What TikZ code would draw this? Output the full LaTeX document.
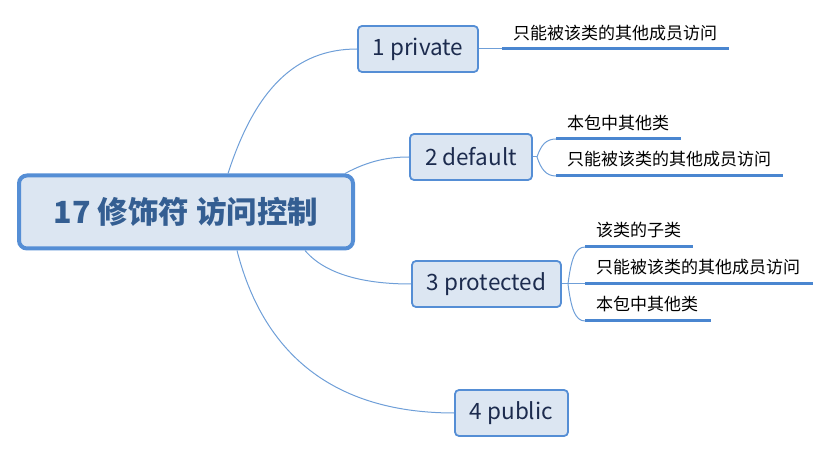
\documentclass[tikz,border=0pt]{standalone}
\usepackage{fontspec}
\setmainfont{Noto Sans CJK SC}
\definecolor{boxfill}{HTML}{DCE6F2}
\definecolor{boxborder}{HTML}{558ED5}
\definecolor{lineblue}{HTML}{6F9FD8}
\definecolor{ulblue}{HTML}{4A86D0}
\definecolor{topictext}{HTML}{1C2B4E}
\definecolor{roottext}{HTML}{345E92}
\begin{document}
\begin{tikzpicture}[x=1pt,y=-1pt,
  conn/.style={draw=lineblue,line width=1pt},
  uline/.style={draw=ulblue,line width=3pt},
  topic/.style={draw=boxborder,fill=boxfill,line width=1.8pt,rounded corners=4pt,text=topictext,font=\fontsize{22.5}{26}\selectfont,inner sep=0pt,minimum height=46pt},
  leaf/.style={anchor=base west,inner sep=0pt,font=\fontsize{17}{20}\selectfont,text=black}]
\useasboundingbox (0,0) rectangle (830,454);
\node[draw=boxborder,fill=boxfill,line width=4pt,rounded corners=8pt,minimum width=334pt,minimum height=73pt,inner sep=0pt,font=\fontsize{30.5}{34}\selectfont\bfseries,text=roottext] (root) at (186,212) {17 修饰符 访问控制};
\node[topic,minimum width=120pt] (p1) at (418,49) {1 private};
\node[topic,minimum width=122pt] (p2) at (471,157) {2 default};
\node[topic,minimum width=149pt] (p3) at (486.5,284) {3 protected};
\node[topic,minimum width=113pt] (p4) at (511.5,413) {4 public};
% root connectors
\draw[conn] ([xshift=42pt]root.north) .. controls (255,90) and (295,49) .. (p1.west);
\draw[conn] ([xshift=159pt]root.north) .. controls (370,160) and (390,157) .. (p2.west);
\draw[conn] ([xshift=119pt]root.south) .. controls (330,280) and (380,284) .. (p3.west);
\draw[conn] ([xshift=51pt]root.south) .. controls (265,360) and (340,413) .. (p4.west);
% private
\coordinate (c11s) at (502,49);
\coordinate (c11e) at (729,49);
\draw[conn] (p1.east) -- (c11s);
\draw[uline] (c11s) -- (c11e);
\node[leaf] (t11) at (513,40) {只能被该类的其他成员访问};
% default
\coordinate (d0) at (537,157);
\coordinate (c21s) at (556,139);
\coordinate (c21e) at (681,139);
\coordinate (c22s) at (556,176);
\coordinate (c22e) at (783,176);
\draw[conn] (p2.east) -- (d0);
\draw[conn] (d0) .. controls (541,145) and (546,139) .. (c21s);
\draw[conn] (d0) .. controls (541,169) and (546,176) .. (c22s);
\draw[uline] (c21s) -- (c21e);
\draw[uline] (c22s) -- (c22e);
\node[leaf] (t21) at (567,130) {本包中其他类};
\node[leaf] (t22) at (567,166) {只能被该类的其他成员访问};
% protected
\coordinate (e0) at (568,284);
\coordinate (c31s) at (585,247);
\coordinate (c31e) at (693,247);
\coordinate (c32s) at (585,284);
\coordinate (c32e) at (813,284);
\coordinate (c33s) at (585,321);
\coordinate (c33e) at (711,321);
\draw[conn] (p3.east) -- (e0);
\draw[conn] (e0) .. controls (571,260) and (575,247) .. (c31s);
\draw[conn] (e0) -- (c32s);
\draw[conn] (e0) .. controls (571,308) and (575,321) .. (c33s);
\draw[uline] (c31s) -- (c31e);
\draw[uline] (c32s) -- (c32e);
\draw[uline] (c33s) -- (c33e);
\node[leaf] (t31) at (596,237) {该类的子类};
\node[leaf] (t32) at (596,274) {只能被该类的其他成员访问};
\node[leaf] (t33) at (596,311) {本包中其他类};
\end{tikzpicture}
\end{document}
